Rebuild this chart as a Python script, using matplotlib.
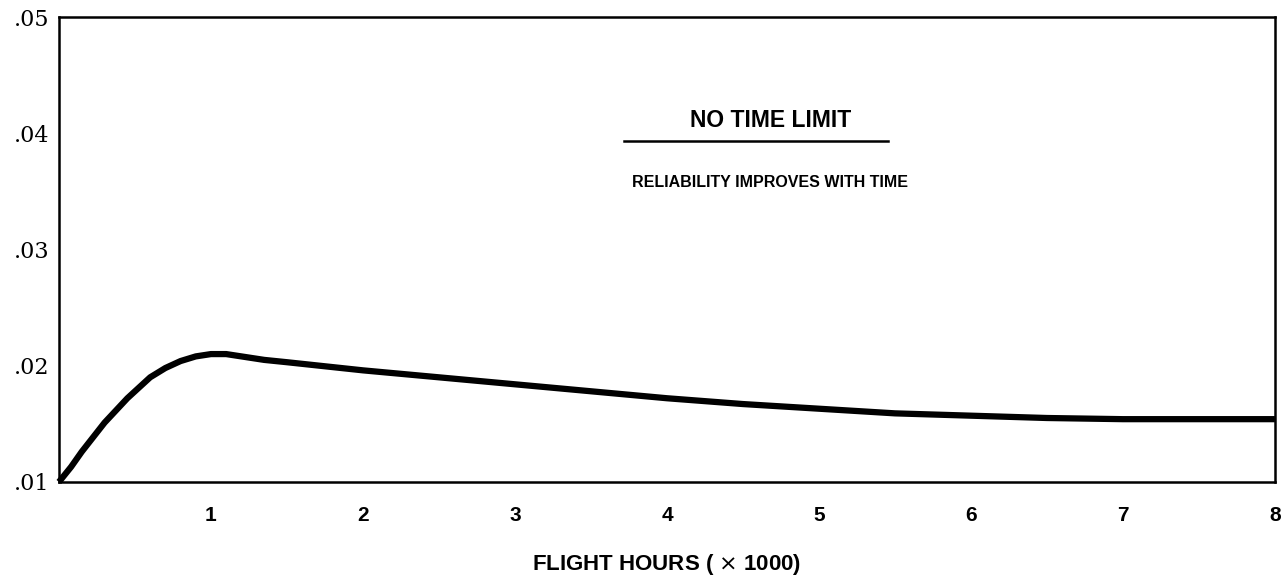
import matplotlib
matplotlib.use("Agg")
import matplotlib.pyplot as plt

# curve (flight hours x1000, value)
hours = [0.0, 0.08, 0.15, 0.3, 0.45, 0.6, 0.7, 0.8, 0.9, 1.0, 1.1, 1.2,
         1.35, 1.5, 2.0, 2.5, 3.0, 3.5, 4.0, 4.5, 5.0, 5.5, 6.0, 6.5,
         7.0, 7.5, 8.0]
rate = [0.0100, 0.0113, 0.0126, 0.0151, 0.0172, 0.0190, 0.0198, 0.0204,
        0.0208, 0.0210, 0.0210, 0.0208, 0.0205, 0.0203, 0.0196, 0.0190,
        0.0184, 0.0178, 0.0172, 0.0167, 0.0163, 0.0159, 0.0157, 0.0155,
        0.0154, 0.0154, 0.0154]

x_ticks = [1, 2, 3, 4, 5, 6, 7, 8]
y_ticks = [0.01, 0.02, 0.03, 0.04, 0.05]
y_labels = [".01", ".02", ".03", ".04", ".05"]

fig = plt.figure(figsize=(12.82, 5.87), dpi=100)
ax = fig.add_axes([0.046, 0.179, 0.9485, 0.792])

ax.plot(hours, rate, color="black", lw=4.5, solid_capstyle="butt",
        solid_joinstyle="round", clip_on=False)

ax.set_xlim(0, 8)
ax.set_ylim(0.01, 0.05)
ax.set_xticks(x_ticks)
ax.set_xticklabels([str(t) for t in x_ticks], fontweight="bold",
                   fontsize=15, family="Liberation Sans")
ax.set_yticks(y_ticks)
ax.set_yticklabels(y_labels, fontsize=16, family="DejaVu Serif")
ax.tick_params(axis="x", length=0, pad=17)
ax.tick_params(axis="y", length=0, pad=7)
for s in ax.spines.values():
    s.set_linewidth(1.8)

ax.set_xlabel("FLIGHT HOURS ( $\\times$ 1000)", fontweight="bold",
              fontsize=16, family="Liberation Sans", labelpad=20)

ax.text(0.585, 0.778, "NO TIME LIMIT", transform=ax.transAxes,
        ha="center", va="center", fontweight="bold", fontsize=16.5,
        family="Liberation Sans")
ax.plot([0.465, 0.682], [0.733, 0.733], transform=ax.transAxes,
        color="black", lw=1.8)
ax.text(0.585, 0.645, "RELIABILITY IMPROVES WITH TIME", transform=ax.transAxes,
        ha="center", va="center", fontweight="bold", fontsize=11.5,
        family="Liberation Sans")

fig.savefig("out.png", dpi=100)
